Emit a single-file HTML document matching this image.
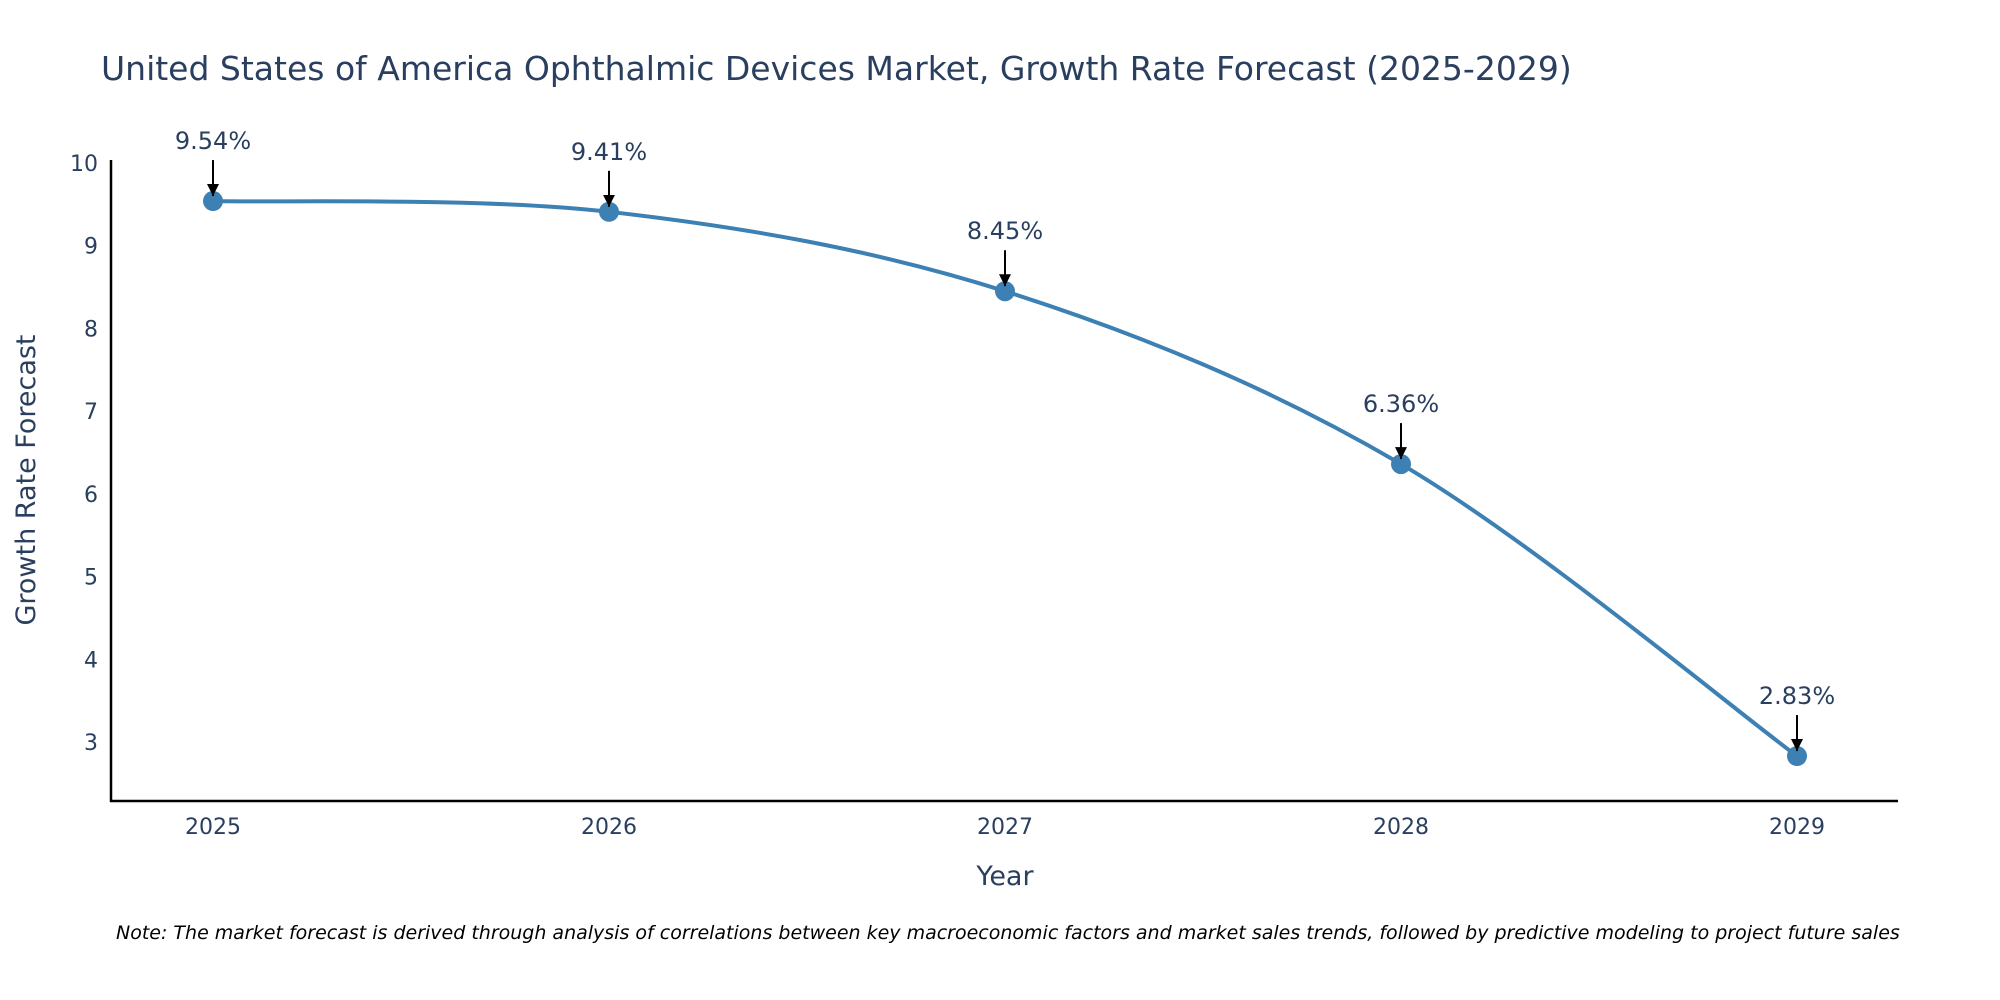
<!DOCTYPE html>
<html><head><meta charset="utf-8"><style>
body{margin:0;background:#fff;}
svg{display:block;font-family:"DejaVu Sans","Liberation Sans",sans-serif;}
</style></head><body>
<svg id="chart" width="2000" height="1000" viewBox="0 0 2000 1000">
<defs><marker id="arr" viewBox="0 0 10 10" refX="10" refY="5" markerWidth="6" markerHeight="6" orient="auto"><path d="M0,0 L10,5 L0,10 Z" fill="#000"/></marker></defs>
<text x="101" y="80" font-size="33" fill="#2a3f5f">United States of America Ophthalmic Devices Market, Growth Rate Forecast (2025-2029)</text>
<g id="yticks"></g><g id="xticks"></g>
<line x1="111" y1="160" x2="111" y2="802" stroke="#000" stroke-width="2.5"/>
<line x1="110" y1="801" x2="1898" y2="801" stroke="#000" stroke-width="2.5"/>
<text transform="translate(35,480) rotate(-90)" text-anchor="middle" font-size="27" fill="#2a3f5f">Growth Rate Forecast</text>
<text x="1005" y="885" text-anchor="middle" font-size="27" fill="#2a3f5f">Year</text>
<path id="line" fill="none" stroke="#3d80b3" stroke-width="4"/>
<g id="marks"></g>
<text x="116" y="939" font-size="19" font-style="italic" fill="#000">Note: The market forecast is derived through analysis of correlations between key macroeconomic factors and market sales trends, followed by predictive modeling to project future sales</text>
</svg>
<script>
const years = ["2025","2026","2027","2028","2029"];
const values = [9.54, 9.41, 8.45, 6.36, 2.83];
const yTicks = [3,4,5,6,7,8,9,10];
const NS="http://www.w3.org/2000/svg";
const xs=i=>213+i*(1797-213)/(years.length-1);
const ys=v=>742-(v-3)*(742-163)/7;
function mk(t,a,p){const e=document.createElementNS(NS,t);for(const k in a)e.setAttribute(k,a[k]);p.appendChild(e);return e;}
const yt=document.getElementById('yticks');
yTicks.forEach(v=>{const t=mk('text',{x:98,y:ys(v)+8,'text-anchor':'end','font-size':22,fill:'#2a3f5f'},yt);


t.textContent=v;});
const xt=document.getElementById('xticks');
years.forEach((y,i)=>{const t=mk('text',{x:xs(i),y:834,'text-anchor':'middle','font-size':22,fill:'#2a3f5f'},xt);


t.textContent=y;});
const P=values.map((v,i)=>[xs(i),ys(v)]);
let d=`M${P[0][0]},${P[0][1]}`;
for(let i=0;i<P.length-1;i++){const p0=P[Math.max(i-1,0)],p1=P[i],p2=P[i+1],p3=P[Math.min(i+2,P.length-1)];const k=1/6;
d+=` C${p1[0]+(p2[0]-p0[0])*k},${p1[1]+(p2[1]-p0[1])*k} ${p2[0]-(p3[0]-p1[0])*k},${p2[1]-(p3[1]-p1[1])*k} ${p2[0]},${p2[1]}`;}
document.getElementById('line').setAttribute('d',d);
const g=document.getElementById('marks');
P.forEach((p,i)=>{
const c=mk('circle',{cx:p[0],cy:p[1],r:10,fill:'#3d80b3'},g);


const a=mk('line',{x1:p[0],y1:p[1]-41,x2:p[0],y2:p[1]-5,stroke:'#000','stroke-width':2,'marker-end':'url(#arr)'},g);


const t=mk('text',{x:p[0],y:p[1]-52,'text-anchor':'middle','font-size':24,fill:'#2a3f5f'},g);


t.textContent=values[i].toFixed(2)+'%';});
</script>
</body></html>
